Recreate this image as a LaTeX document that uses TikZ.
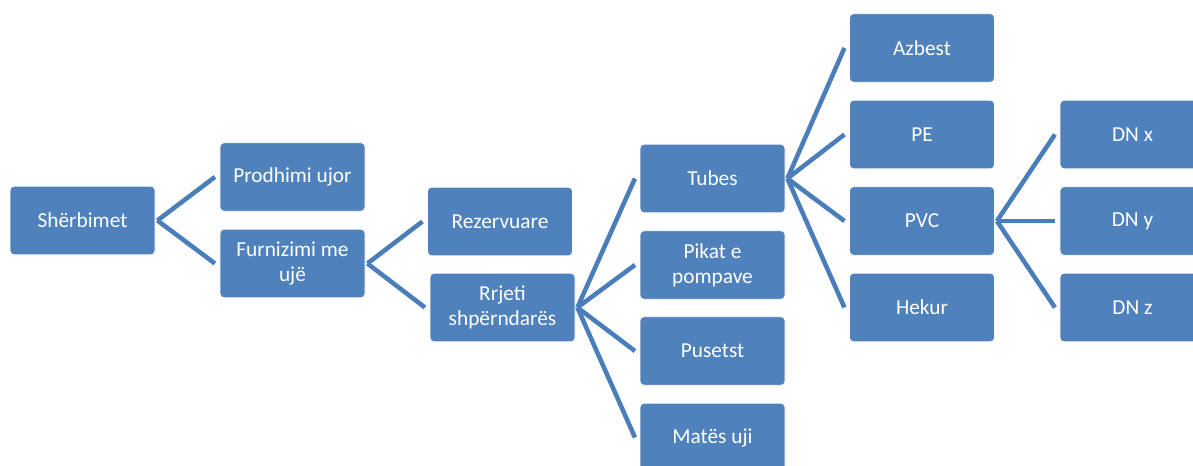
\documentclass[tikz,border=0pt]{standalone}
\usepackage{fontspec}
\setmainfont{Carlito}
\usetikzlibrary{positioning}

\definecolor{boxblue}{HTML}{4F81BD}
\definecolor{lineblue}{HTML}{4A7EBB}

\tikzset{
  box/.style={rectangle, rounded corners=3pt, fill=boxblue, draw=white, line width=0.6pt,
    minimum width=108.75pt, minimum height=51.5pt, align=center, text=white,
    font=\fontsize{16}{18.5}\selectfont},
  link/.style={draw=lineblue, line width=3.4pt}
}

\begin{document}
\begin{tikzpicture}[x=0.75pt, y=-0.75pt]
    \useasboundingbox (0, 0) rectangle (1193, 466);

    % level 0 and 1
    \node[box] (sherbimet) at (82.5, 220.5) {Shërbimet};
    \node[box] (prodhimi) at (292.5, 177) {Prodhimi ujor};
    \node[box] (furnizimi) at (292.5, 263.5) {Furnizimi me\\ujë};

    % level 2
    \node[box] (rezervuare) at (500, 221.5) {Rezervuare};
    \node[box] (rrjeti) at (502.5, 307.5) {Rrjeti\\shpërndarës};

    % level 3
    \node[box] (tubes) at (712.5, 178.5) {Tubes};
    \node[box] (pikat) at (712.5, 265) {Pikat e\\pompave};
    \node[box] (pusetst) at (712.5, 351) {Pusetst};
    \node[box] (matesi) at (712.5, 437.5) {Matës uji};

    % level 4
    \node[box] (azbest) at (922, 48) {Azbest};
    \node[box] (pe) at (922, 134.5) {PE};
    \node[box] (pvc) at (922, 221) {PVC};
    \node[box] (hekur) at (922, 307.5) {Hekur};

    % level 5
    \node[box] (dnx) at (1132.5, 134.5) {DN x};
    \node[box] (dny) at (1132.5, 221) {DN y};
    \node[box] (dnz) at (1132.5, 307.5) {DN z};

    \foreach \parent/\child in {sherbimet/prodhimi, sherbimet/furnizimi,
                                furnizimi/rezervuare, furnizimi/rrjeti,
                                rrjeti/tubes, rrjeti/pikat, rrjeti/pusetst, rrjeti/matesi,
                                tubes/azbest, tubes/pe, tubes/pvc, tubes/hekur,
                                pvc/dnx, pvc/dny, pvc/dnz}
      \path[link] ([xshift=1.5pt]\parent.east) -- ([xshift=-3.5pt]\child.west);
\end{tikzpicture}
\end{document}
